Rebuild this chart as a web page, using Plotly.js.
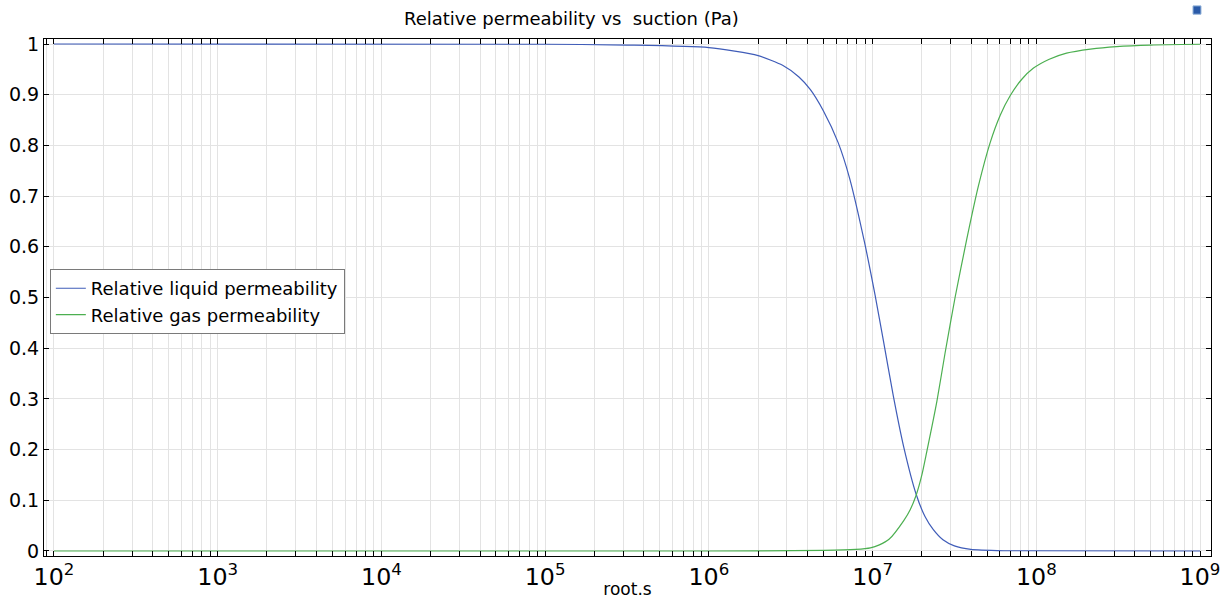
<!DOCTYPE html>
<html>
<head>
<meta charset="utf-8">
<script src="https://cdn.plot.ly/plotly-3.0.1.min.js"></script>
<style>html,body{margin:0;padding:0;background:#fff;}#chart{width:1221px;height:599px;}</style>
</head>
<body>
<div id="chart"></div>
<script>
// Suction (Pa) and relative permeabilities
const suctionLiquid = [1e2, 1e5, 3.16e5, 1e6, 2.0e6, 2.82e6, 3.55e6, 4.17e6, 5.01e6, 6.17e6, 7.24e6, 8.91e6, 1.035e7, 1.164e7, 1.34e7, 1.55e7, 1.845e7, 2.09e7, 2.35e7, 2.69e7, 3.16e7, 3.98e7, 6.31e7, 1e9];
const krLiquid      = [1, 0.9995, 0.998, 0.993, 0.977, 0.958, 0.935, 0.910, 0.868, 0.805, 0.735, 0.610, 0.505, 0.415, 0.305, 0.205, 0.112, 0.068, 0.042, 0.022, 0.010, 0.003, 0.0005, 0];

const suctionGas = [1e2, 1e6, 5.0e6, 7.9e6, 9.7e6, 1.1e7, 1.26e7, 1.55e7, 1.70e7, 1.845e7, 2.0e7, 2.14e7, 2.47e7, 2.77e7, 3.19e7, 3.76e7, 4.43e7, 5.22e7, 6.03e7, 6.92e7, 8.13e7, 9.57e7, 1.2e8, 1.53e8, 2.14e8, 3.09e8, 5.01e8, 1e9];
const krGas      = [0, 0, 0.001, 0.003, 0.006, 0.012, 0.023, 0.060, 0.082, 0.110, 0.150, 0.195, 0.295, 0.390, 0.500, 0.615, 0.720, 0.805, 0.860, 0.898, 0.930, 0.952, 0.970, 0.982, 0.990, 0.995, 0.998, 0.9995];

const seriesNames = ['Relative liquid permeability', 'Relative gas permeability'];
const yTickVals = [0, 0.1, 0.2, 0.3, 0.4, 0.5, 0.6, 0.7, 0.8, 0.9, 1];
const yTickText = ['0', '0.1', '0.2', '0.3', '0.4', '0.5', '0.6', '0.7', '0.8', '0.9', '1'];

const FONT = 'DejaVu Sans, sans-serif';

const traces = [
  {x: suctionLiquid, y: krLiquid, name: seriesNames[0], type: 'scatter', mode: 'lines',
   line: {color: '#3f5cb8', width: 1.2, shape: 'spline', smoothing: 0.6}},
  {x: suctionGas, y: krGas, name: seriesNames[1], type: 'scatter', mode: 'lines',
   line: {color: '#4caf50', width: 1.2, shape: 'spline', smoothing: 0.6}}
];

const layout = {
  width: 1221, height: 599,
  margin: {l: 44, r: 10, t: 39, b: 43},
  paper_bgcolor: '#ffffff', plot_bgcolor: '#ffffff',
  font: {family: FONT, size: 18, color: '#000'},
  title: {text: 'Relative permeability vs\u00a0 suction (Pa)', x: 0.468, xanchor: 'center', y: 0.968, yanchor: 'middle',
          font: {family: FONT, size: 18, color: '#000'}},
  showlegend: true,
  legend: {x: 0.005, y: 0.555, xanchor: 'left', yanchor: 'top', bgcolor: '#ffffff',
           bordercolor: '#7a7a7a', borderwidth: 1, font: {family: FONT, size: 18, color: '#000'},
           itemwidth: 30, tracegroupgap: 0},
  xaxis: {
    type: 'log', range: [1.939, 9.067], dtick: 1, tick0: 0, exponentformat: 'power',
    showline: true, linecolor: '#000', linewidth: 1, mirror: 'ticks',
    ticks: 'inside', ticklen: 5, tickcolor: '#000',
    showgrid: true, gridcolor: '#e3e3e3', gridwidth: 1, zeroline: false,
    tickfont: {family: FONT, size: 19, color: '#000'},
    minor: {dtick: 'D1', ticks: 'inside', ticklen: 5, tickcolor: '#000', showgrid: true, gridcolor: '#e3e3e3', gridwidth: 1},
    title: {text: 'root.s', font: {family: FONT, size: 17, color: '#000'}, standoff: 2}
  },
  yaxis: {
    range: [-0.0099, 1.0099], tickmode: 'array', tickvals: yTickVals, ticktext: yTickText,
    showline: true, linecolor: '#000', linewidth: 1, mirror: 'ticks',
    ticks: 'inside', ticklen: 5, tickcolor: '#000',
    showgrid: true, gridcolor: '#e3e3e3', gridwidth: 1, zeroline: false,
    tickfont: {family: FONT, size: 19, color: '#000'}
  },
  shapes: [
    {type: 'rect', xref: 'paper', yref: 'paper', x0: 0.9846, x1: 0.9914, y0: 1.048, y1: 1.064,
     fillcolor: '#2a5aa8', line: {color: '#8fb0d8', width: 1}}
  ]
};

Plotly.newPlot('chart', traces, layout, {displayModeBar: false, responsive: false});
</script>
</body>
</html>
